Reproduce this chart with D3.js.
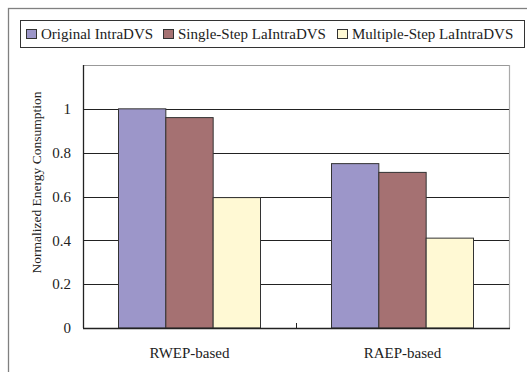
<!DOCTYPE html>
<html>
<head>
<meta charset="utf-8">
<script src="https://cdn.jsdelivr.net/npm/d3@7"></script>
<style>
  body { margin: 0; background: #fff; }
  svg { display: block; font-family: "Liberation Serif", "Times New Roman", serif; }
</style>
</head>
<body>
<svg id="chart" width="527" height="372"></svg>
<script>
const categories = ["RWEP-based", "RAEP-based"];
const seriesNames = ["Original IntraDVS", "Single-Step LaIntraDVS", "Multiple-Step LaIntraDVS"];
const originalIntraDVS = [1.0, 0.75];
const singleStep = [0.96, 0.71];
const multipleStep = [0.595, 0.41];
const yTicks = [0, 0.2, 0.4, 0.6, 0.8, 1];
const colors = ["#9C96C9", "#A57172", "#FFF9D4"];

const seriesValues = [originalIntraDVS, singleStep, multipleStep];

const svg = d3.select("#chart");
const W = 527, H = 372;
svg.append("rect").attr("width", W).attr("height", H).attr("fill", "#fff");

// outer frame
svg.append("rect").attr("x", 8.5).attr("y", 8.5).attr("width", 530).attr("height", 400)
  .attr("fill", "none").attr("stroke", "#808080").attr("stroke-width", 1.3);

const m = {left: 83, right: 509, top: 65, bottom: 328};

const x = d3.scaleBand().domain(categories).range([m.left, m.right]).paddingInner(0).paddingOuter(0);
const x1 = d3.scaleBand().domain(d3.range(seriesNames.length)).range([0, x.bandwidth()]).paddingInner(0).paddingOuter(0.75);
const y = d3.scaleLinear().domain([0, 1.2]).range([m.bottom, m.top]);

// plot top border & right border
svg.append("line").attr("x1", m.left).attr("x2", m.right).attr("y1", m.top + 0.5).attr("y2", m.top + 0.5)
  .attr("stroke", "#999").attr("stroke-width", 1);
svg.append("line").attr("x1", m.right + 0.5).attr("x2", m.right + 0.5).attr("y1", m.top).attr("y2", m.bottom)
  .attr("stroke", "#aaa").attr("stroke-width", 1.2);

// gridlines
svg.append("g").selectAll("line").data(yTicks.filter(d => d > 0)).join("line")
  .attr("x1", m.left).attr("x2", m.right)
  .attr("y1", d => Math.round(y(d)) + 0.5).attr("y2", d => Math.round(y(d)) + 0.5)
  .attr("stroke", "#222").attr("stroke-width", 1);

// bars
const groups = svg.append("g").selectAll("g").data(categories).join("g")
  .attr("transform", d => `translate(${x(d)},0)`);
groups.selectAll("rect").data((c, ci) => seriesValues.map((vals, si) => ({si, v: vals[ci]}))).join("rect")
  .attr("x", d => x1(d.si))
  .attr("y", d => y(d.v))
  .attr("width", x1.bandwidth())
  .attr("height", d => y(0) - y(d.v))
  .attr("fill", d => colors[d.si])
  .attr("stroke", "#333").attr("stroke-width", 1);

// y axis
const yAxis = d3.axisLeft(y).tickValues(yTicks).tickSize(0).tickPadding(12)
  .tickFormat(d => d3.format("")(+d.toFixed(1)));
const yg = svg.append("g").attr("transform", `translate(${m.left},0)`).call(yAxis);
yg.select(".domain").attr("stroke", "#222").attr("stroke-width", 1.3).attr("d", `M0.5,${m.top}V${m.bottom}`);
yg.selectAll("text").attr("font-size", 15).attr("fill", "#222").attr("font-family", "Liberation Serif");

// x axis
const xAxis = d3.axisBottom(x).tickSize(0).tickPadding(19);
const xg = svg.append("g").attr("transform", `translate(0,${m.bottom})`).call(xAxis);
xg.select(".domain").attr("stroke", "#222").attr("stroke-width", 1.3).attr("d", `M${m.left},0.5H${m.right + 1}`);
xg.selectAll("text").attr("font-size", 15).attr("fill", "#222").attr("font-family", "Liberation Serif");
// category boundary ticks (inward)
svg.append("g").selectAll("line").data([x(categories[1])]).join("line")
  .attr("x1", d => d + 0.5).attr("x2", d => d + 0.5).attr("y1", m.bottom).attr("y2", m.bottom - 5)
  .attr("stroke", "#222").attr("stroke-width", 1);

// y title
svg.append("text")
  .attr("transform", `translate(41,${(m.top + m.bottom) / 2 - 14}) rotate(-90)`)
  .attr("text-anchor", "middle")
  .attr("font-size", 13.5).attr("fill", "#222")
  .text("Normalized Energy Consumption");

// legend
const lg = svg.append("g");
lg.append("rect").attr("x", 20.5).attr("y", 20.5).attr("width", 504).attr("height", 27)
  .attr("fill", "#fff").attr("stroke", "#333").attr("stroke-width", 1);
const legendX = [26, 163, 337];
seriesNames.forEach((name, i) => {
  const g = lg.append("g").attr("transform", `translate(${legendX[i]},0)`);
  g.append("rect").attr("x", 0.5).attr("y", 29.5).attr("width", 10).attr("height", 9)
    .attr("fill", colors[i]).attr("stroke", "#333").attr("stroke-width", 1);
  g.append("text").attr("x", 15).attr("y", 39).attr("font-size", 15).attr("fill", "#222").text(name);
});
</script>
</body>
</html>
